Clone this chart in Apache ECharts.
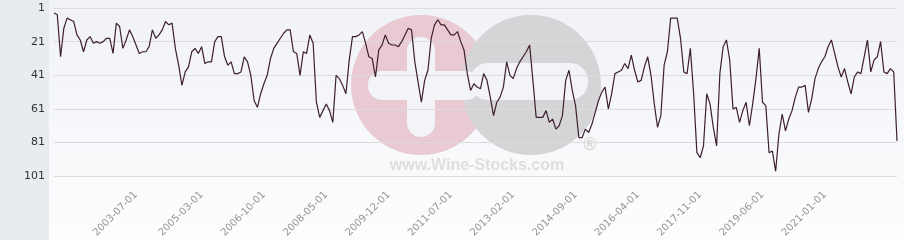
<!DOCTYPE html>
<html><head><meta charset="utf-8">
<script src="https://cdn.jsdelivr.net/npm/echarts@6/dist/echarts.min.js"></script>
<style>html,body{margin:0;padding:0;background:#fff;}#c{width:904px;height:240px;}</style>
</head><body><div id="c"></div>
<script>
// first month of the series
const startYear = 2001;
const startMonth = 6;

// monthly rank values (lower = better, axis inverted)
const ranks = [
  4, 5, 30, 13, 7, 8, 9, 17, 20, 27, 20, 18, 22, 21, 22, 21, 19, 19, 28, 10,
  12, 25, 20, 14, 18, 23, 28, 27, 27, 24, 14, 19, 17, 14, 9, 11,
  10, 25, 35, 47, 39, 36, 27, 25, 28, 24, 34, 33, 33, 21, 18, 18, 30, 35, 33, 40,
  40, 39, 30, 33, 41, 56, 60, 52, 46, 41, 31, 25, 22, 19, 16, 14, 14,
  27, 28, 41, 27, 28, 17, 22, 57, 66, 62, 58, 62, 69, 41, 43, 47, 52, 32, 18, 18,
  17, 15, 22, 30, 31, 42, 26, 23, 17, 22, 23, 23, 24, 21, 17, 13, 14,
  33, 45, 57, 44, 38, 19, 11, 8, 11, 11, 14, 17, 17, 15, 21, 26, 40, 50, 46, 48,
  49, 40, 44, 54, 65, 57, 54, 48, 33, 41, 43, 37, 33, 30, 27, 23,
  44, 66, 66, 66, 62, 69, 67, 73, 71, 65, 44, 38, 50, 59, 78, 78, 73, 75, 70, 63,
  56, 51, 48, 61, 52, 40, 39, 38, 34, 37, 29, 38, 45, 44, 36, 30, 41,
  58, 72, 65, 35, 27, 7, 7, 7, 19, 39, 40, 25, 52, 87, 90, 83, 52, 58, 72, 83,
  40, 24, 20, 32, 61, 60, 69, 62, 57, 71, 58, 43, 25, 57, 59, 87, 86,
  98, 76, 64, 74, 67, 62, 54, 48, 48, 47, 63, 55, 43, 37, 33, 30, 24, 20, 28, 36,
  42, 37, 45, 52, 42, 39, 40, 30, 20, 39, 32, 30, 21, 39, 40, 37, 39, 80
];

// x-axis tick labels shown
const tickLabels = [
  '2003-07-01', '2005-03-01', '2006-10-01', '2008-05-01', '2009-12-01', '2011-07-01',
  '2013-02-01', '2014-09-01', '2016-04-01', '2017-11-01', '2019-06-01', '2021-01-01'
];

// y-axis ticks
const yMin = 1, yMax = 101, yStep = 20;

const categories = [];
for (let i = 0; i < ranks.length; i++) {
  const m = startMonth - 1 + i;
  const y = startYear + Math.floor(m / 12);
  const mm = (m % 12) + 1;
  categories.push(y + '-' + String(mm).padStart(2, '0') + '-01');
}

const chart = echarts.init(document.getElementById('c'), null, {renderer: 'canvas'});
const wmWhite = '#f3f4f8';
chart.setOption({
  animation: false,
  backgroundColor: 'transparent',
  grid: {left: 54, right: 7, top: 8, bottom: 62},
  graphic: {elements: [
    {type: 'rect', z: -20, silent: true, shape: {x: 0, y: 0, width: 904, height: 240},
      style: {fill: new echarts.graphic.LinearGradient(0, 0, 0, 1, [
        {offset: 0, color: '#f0f2f7'}, {offset: 1, color: '#fdfdfe'}])}},
    {type: 'rect', z: -19, silent: true, shape: {x: 0, y: 0, width: 49, height: 240},
      style: {fill: '#e8ecef'}},
    {type: 'circle', z: -15, silent: true, shape: {cx: 421, cy: 85, r: 70}, style: {fill: '#e9c9d2'}},
    {type: 'circle', z: -14, silent: true, shape: {cx: 531, cy: 85, r: 70}, style: {fill: '#d5d5d8'}},
    {type: 'rect', z: -13, silent: true, shape: {x: 407, y: 37, width: 28, height: 100, r: 14}, style: {fill: wmWhite}},
    {type: 'rect', z: -13, silent: true, shape: {x: 368, y: 71, width: 112, height: 29, r: 14}, style: {fill: wmWhite}},
    {type: 'rect', z: -13, silent: true, shape: {x: 470, y: 63, width: 118, height: 37, r: 18}, style: {fill: wmWhite}},
    {type: 'text', z: -12, silent: true, x: 477, y: 166,
      style: {text: 'www.Wine-Stocks.com', fill: '#dedede', font: 'bold 16px "Liberation Sans", Arial, sans-serif',
        align: 'center', verticalAlign: 'middle'}},
    {type: 'text', z: -12, silent: true, x: 590, y: 145,
      style: {text: '®', fill: '#d6d6d6', font: 'bold 18px "Liberation Sans", Arial, sans-serif',
        align: 'center', verticalAlign: 'middle'}}
  ]},
  xAxis: {
    type: 'category',
    data: categories,
    boundaryGap: false,
    axisLine: {show: false},
    axisTick: {show: false},
    splitLine: {show: false},
    axisLabel: {
      interval: function (idx, val) { return tickLabels.indexOf(val) >= 0; },
      rotate: 45,
      margin: 17,
      color: '#949494',
      fontSize: 10,
      fontFamily: 'DejaVu Sans'
    }
  },
  yAxis: {
    type: 'value',
    inverse: true,
    min: yMin,
    max: yMax,
    interval: yStep,
    axisLine: {show: false},
    axisTick: {show: false},
    axisLabel: {color: '#333', fontSize: 11, margin: 9, fontFamily: 'DejaVu Sans'},
    splitLine: {lineStyle: {color: '#dcdcdc', width: 1}}
  },
  series: [{
    type: 'line',
    data: ranks,
    symbol: 'none',
    lineStyle: {color: '#3d1f2c', width: 1.2},
    z: 5
  }]
});
</script>
</body></html>
